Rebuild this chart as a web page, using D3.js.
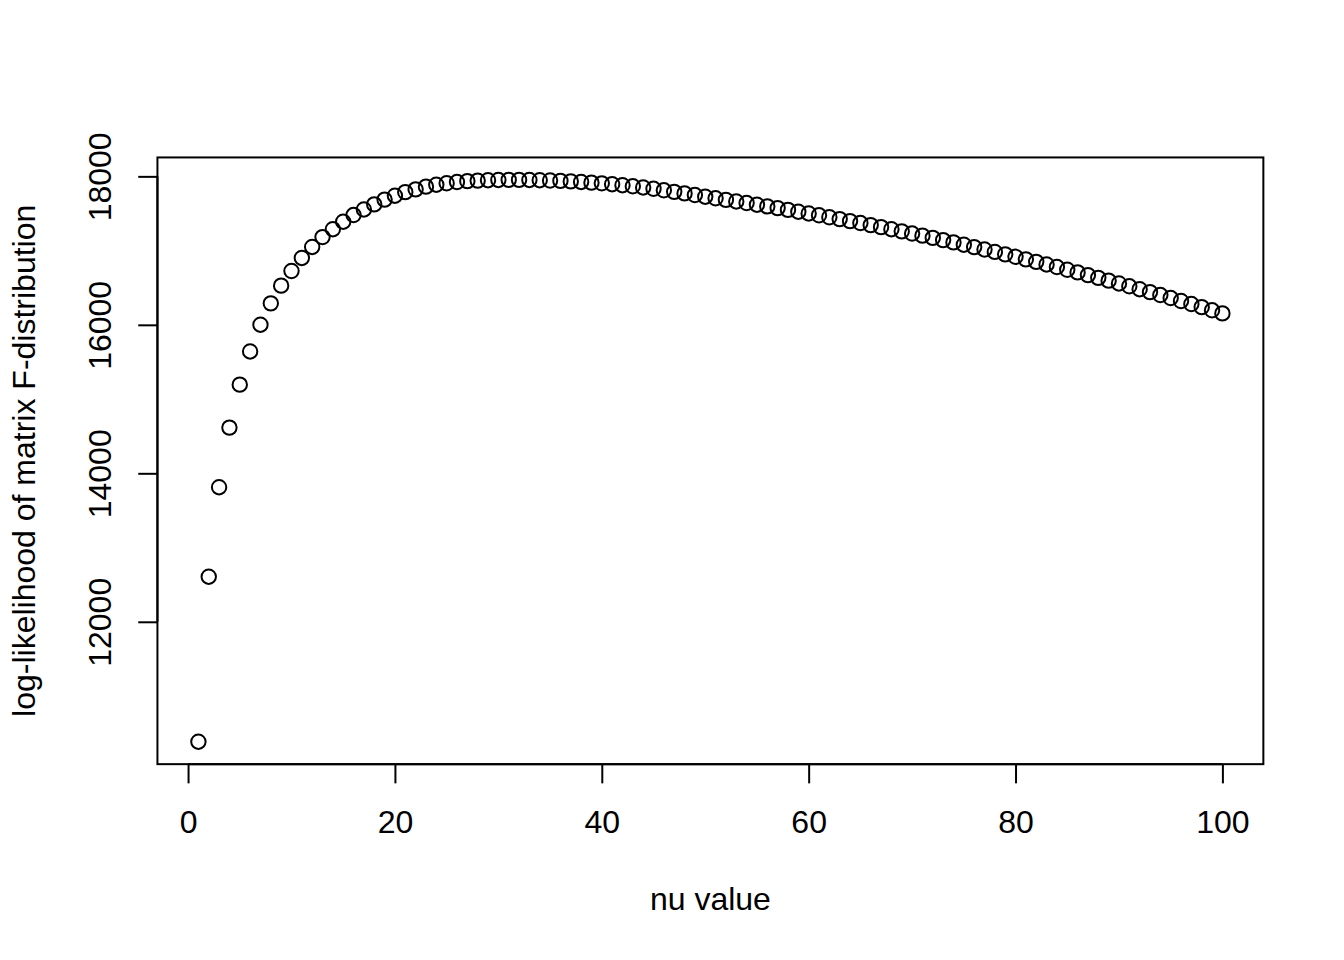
<!DOCTYPE html>
<html>
<head>
<meta charset="utf-8">
<script src="https://cdn.jsdelivr.net/npm/d3@7"></script>
<style>
  html, body { margin: 0; padding: 0; background: #fff; }
  svg { display: block; }
  text { font-family: "Liberation Sans", Arial, Helvetica, sans-serif; font-size: 32px; fill: #000; }
</style>
</head>
<body>
<svg id="chart" width="1344" height="960"></svg>
<script>
// ---- data ----
const nuValues = d3.range(1, 101);
const logLik = [
  10385, 12607, 13813, 14616, 15194, 15641, 16002, 16289, 16528, 16725,
  16901, 17049, 17182, 17288, 17389, 17479, 17554, 17622, 17687, 17739,
  17787, 17825, 17861, 17887, 17907, 17923, 17935, 17943, 17948, 17951,
  17952, 17952, 17951, 17948, 17944, 17939, 17932, 17924, 17915, 17906,
  17894, 17881, 17866, 17850, 17832, 17812, 17791, 17770, 17748, 17726,
  17704, 17683, 17662, 17640, 17618, 17595, 17572, 17548, 17524, 17500,
  17475, 17449, 17424, 17397, 17371, 17343, 17316, 17288, 17259, 17230,
  17201, 17171, 17141, 17110, 17079, 17047, 17015, 16982, 16949, 16916,
  16882, 16848, 16813, 16778, 16742, 16706, 16670, 16633, 16595, 16557,
  16519, 16480, 16441, 16401, 16361, 16321, 16280, 16238, 16196, 16154
];
const xTicks = [0, 20, 40, 60, 80, 100];
const yTicks = [12000, 14000, 16000, 18000];
const xLabel = "nu value";
const yLabel = "log-likelihood of matrix F-distribution";

// ---- layout (R base graphics style) ----
const W = 1344, H = 960;
const lineH = 38.4;
const mar = { bottom: 5.1 * lineH, left: 4.1 * lineH, top: 4.1 * lineH, right: 2.1 * lineH };
const x0 = mar.left, x1 = W - mar.right, y0 = mar.top, y1 = H - mar.bottom;

const svg = d3.select("#chart");

function padExtent(ext) {
  const r = ext[1] - ext[0];
  return [ext[0] - 0.04 * r, ext[1] + 0.04 * r];
}
const x = d3.scaleLinear().domain(padExtent(d3.extent(nuValues))).range([x0, x1]);
const y = d3.scaleLinear().domain(padExtent(d3.extent(logLik))).range([y1, y0]);

const data = nuValues.map((n, i) => ({ n, v: logLik[i] }));

// points
svg.append("g").selectAll("circle").data(data).join("circle")
  .attr("cx", d => x(d.n))
  .attr("cy", d => y(d.v))
  .attr("r", 7.2)
  .attr("fill", "none")
  .attr("stroke", "#000")
  .attr("stroke-width", 2);

// box
svg.append("rect")
  .attr("x", x0).attr("y", y0)
  .attr("width", x1 - x0).attr("height", y1 - y0)
  .attr("fill", "none").attr("stroke", "#000").attr("stroke-width", 2);

// x axis
const tick = 0.5 * lineH;
const gx = svg.append("g").attr("transform", `translate(0,${y1})`)
  .call(d3.axisBottom(x).tickValues(xTicks).tickSize(tick).tickFormat(d3.format("d")));
gx.select(".domain").remove();
gx.selectAll(".tick line").attr("stroke", "#000").attr("stroke-width", 2);
gx.selectAll(".tick text").attr("y", 1.8 * lineH).attr("dy", 0)
  .style("font-size", "32px").style("font-family", '"Liberation Sans", Arial, sans-serif');
gx.append("line")
  .attr("x1", x(xTicks[0])).attr("x2", x(xTicks[xTicks.length - 1]))
  .attr("stroke", "#000").attr("stroke-width", 2);

// y axis
const gy = svg.append("g").attr("transform", `translate(${x0},0)`)
  .call(d3.axisLeft(y).tickValues(yTicks).tickSize(tick).tickFormat(d3.format("d")));
gy.select(".domain").remove();
gy.selectAll(".tick line").attr("stroke", "#000").attr("stroke-width", 2);
gy.selectAll(".tick text")
  .attr("x", null).attr("dy", 0)
  .attr("text-anchor", "middle")
  .attr("transform", `translate(${-1.2 * lineH},0) rotate(-90)`)
  .style("font-size", "32px").style("font-family", '"Liberation Sans", Arial, sans-serif');
gy.append("line")
  .attr("y1", y(yTicks[0])).attr("y2", y(yTicks[yTicks.length - 1]))
  .attr("stroke", "#000").attr("stroke-width", 2);

// titles
svg.append("text")
  .attr("x", (x0 + x1) / 2).attr("y", y1 + 3.8 * lineH)
  .attr("text-anchor", "middle").text(xLabel);
svg.append("text")
  .attr("transform", `translate(${x0 - 3.2 * lineH},${(y0 + y1) / 2}) rotate(-90)`)
  .attr("text-anchor", "middle").text(yLabel);
</script>
</body>
</html>
